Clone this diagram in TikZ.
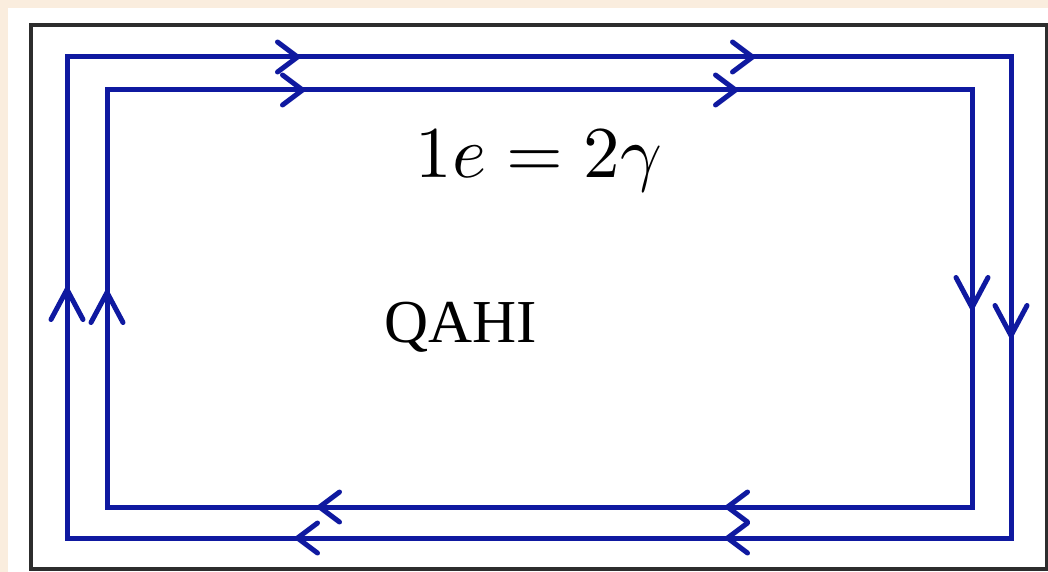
\documentclass[tikz,border=0pt]{standalone}
\usepackage{fontspec}
\newfontfamily\tnr{Liberation Serif}
\usetikzlibrary{arrows.meta}
\definecolor{edgeblue}{RGB}{15,25,160}
\definecolor{framegray}{RGB}{45,45,45}
\definecolor{paper}{RGB}{250,237,222}
\begin{document}
\begin{tikzpicture}[x=1pt,y=-1pt,
  loopline/.style={draw=edgeblue,line width=5pt},
  htip/.style={draw=edgeblue,line width=5pt,line cap=round,
    -{Straight Barb[length=20pt,width=30pt,round]}},
  vtip/.style={draw=edgeblue,line width=5pt,line cap=round,
    -{Straight Barb[length=30pt,width=32pt,round]}}]
\useasboundingbox (0,0) rectangle (1048,572);
\fill[paper] (0,0) rectangle (1048,572);
\fill[white] (8,8) rectangle (1048,572);
\draw[framegray,line width=4pt] (31,25) rectangle (1047,569);
% loops
\draw[loopline] (67,57) rectangle (1011,538);
\draw[loopline] (107,90) rectangle (972,507);
% outer loop arrows (clockwise)
\draw[htip] (260,57) -- (300,57);
\draw[htip] (715,57) -- (755,57);
\draw[vtip] (1011,290) -- (1011,338);
\draw[htip] (335,538) -- (295,538);
\draw[htip] (765,538) -- (725,538);
\draw[vtip] (67,335) -- (67,287);
% inner loop arrows
\draw[htip] (265,90) -- (305,90);
\draw[htip] (698,90) -- (738,90);
\draw[vtip] (972,265) -- (972,310);
\draw[htip] (357,507) -- (317,507);
\draw[htip] (765,507) -- (725,507);
\draw[vtip] (107,335) -- (107,290);
% labels
\node[anchor=base,inner sep=0pt,scale=7.3] (eq) at (539,177) {$1e = 2\gamma$};
\node[anchor=base,inner sep=0pt] (qahi) at (461,342) {\tnr\fontsize{61}{66}\selectfont QAHI};
\end{tikzpicture}
\end{document}
